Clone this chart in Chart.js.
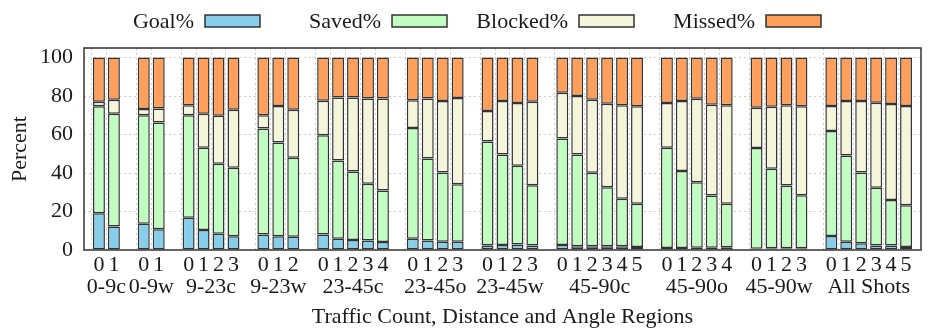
<!DOCTYPE html>
<html lang="en">
<head>
    <meta charset="UTF-8">
    <title>Shot outcomes by region</title>
    <script src="https://cdn.jsdelivr.net/npm/chart.js@4.4.1/dist/chart.umd.min.js"></script>
    <style>
        body { margin: 0; background: #fff; }
        #wrap { width: 940px; height: 331px; position: relative; }
    </style>
</head>
<body>
<div id="wrap"><canvas id="plotCanvas"></canvas></div>
<script>
    // groups along the x axis and how many traffic-count bars each one has
    const groupNames = ['0-9c', '0-9w', '9-23c', '9-23w', '23-45c', '23-45o', '23-45w', '45-90c', '45-90o', '45-90w', 'All Shots'];
    const groupSizes = [2, 2, 4, 3, 5, 4, 4, 6, 5, 4, 6];

    const seriesNames = ['Goal%', 'Saved%', 'Blocked%', 'Missed%'];
    const seriesColors = ['#87ceeb', '#c1fcc1', '#f5f5dc', '#ff9f5c'];

    // one value per bar, groups in order
    const goal = [19.1, 12.2,  13.7, 10.8,  16.7, 10.4, 8.5, 7.1,  8.0, 7.1, 6.9,
        8.0, 5.9, 5.2, 4.9, 4.2,  5.9, 4.9, 4.3, 4.3,  2.4, 2.6, 2.8, 2.3,
        2.6, 1.9, 1.9, 1.9, 1.9, 1.6,  1.0, 1.0, 1.2, 1.2, 1.4,  0.7, 0.9, 0.9, 0.9,
        7.3, 4.3, 3.5, 2.4, 2.3, 1.6];
    const saved = [55.6, 58.6,  56.4, 55.5,  53.4, 42.7, 36.3, 35.6,  55.2, 48.8, 41.0,
        51.7, 40.6, 35.6, 29.5, 26.7,  57.5, 42.7, 36.0, 29.9,  54.0, 47.1, 41.0, 31.4,
        55.4, 47.8, 38.2, 30.7, 24.7, 22.4,  52.1, 40.1, 34.0, 27.1, 22.6,  52.3, 41.3, 32.6, 27.6,
        54.5, 44.8, 36.8, 29.9, 23.7, 21.7];
    const blocked = [2.4, 7.3,  3.2, 7.3,  5.2, 17.7, 25.0, 30.2,  6.9, 18.9, 25.0,
        17.9, 32.8, 38.5, 44.4, 47.9,  14.4, 31.2, 37.1, 44.8,  15.8, 27.7, 32.6, 43.4,
        23.8, 30.3, 38.0, 43.4, 48.6, 50.7,  23.3, 36.3, 43.4, 47.2, 51.3,  21.0, 32.3, 41.8, 46.2,
        13.0, 28.3, 37.1, 44.3, 49.9, 51.5];
    const missed = [22.9, 21.9,  26.7, 26.4,  24.7, 29.2, 30.2, 27.1,  29.9, 25.2, 27.1,
        22.4, 20.7, 20.7, 21.2, 21.2,  22.2, 21.2, 22.6, 21.0,  27.8, 22.6, 23.6, 22.9,
        18.2, 20.0, 21.9, 24.0, 24.8, 25.3,  23.6, 22.6, 21.4, 24.5, 24.7,  26.0, 25.5, 24.7, 25.3,
        25.2, 22.6, 22.6, 23.4, 24.1, 25.2];

    const yTicks = [0, 20, 40, 60, 80, 100];

    // lay the bars out with an empty slot between groups and at both ends
    const labels = [''];
    const groupSpans = [];
    const slotOf = [];
    groupSizes.forEach((n, g) => {
        if (g > 0) labels.push('');
        const first = labels.length;
        for (let i = 0; i < n; i++) {
            slotOf.push(labels.length);
            labels.push(String(i));
        }
        groupSpans.push([first, labels.length - 1]);
    });
    labels.push('');

    function spread(values) {
        const out = labels.map(() => null);
        values.forEach((v, i) => { out[slotOf[i]] = v; });
        return out;
    }

    const FONT = "'Liberation Serif', 'DejaVu Serif', serif";
    const INK = '#1a1a1a';

    const extras = {
        id: 'extras',
        afterDraw(chart) {
            const ctx = chart.ctx;
            const area = chart.chartArea;
            const x = chart.scales.x;
            ctx.save();
            // plot frame
            ctx.strokeStyle = '#333';
            ctx.lineWidth = 1.5;
            ctx.strokeRect(area.left, area.top, area.right - area.left, area.bottom - area.top);
            // group names under the counts
            ctx.fillStyle = INK;
            ctx.font = '22px ' + FONT;
            ctx.textAlign = 'center';
            ctx.textBaseline = 'alphabetic';
            groupSpans.forEach(([a, b], g) => {
                const cx = (x.getPixelForValue(a) + x.getPixelForValue(b)) / 2;
                ctx.fillText(groupNames[g], cx, area.bottom + 43);
            });
            // key: label first, swatch after it
            chart.data.datasets.forEach((ds, i) => {
                const bx = 205 + 187 * i;
                ctx.fillStyle = ds.backgroundColor;
                ctx.fillRect(bx, 15, 55, 12);
                ctx.strokeStyle = '#333';
                ctx.lineWidth = 1.5;
                ctx.strokeRect(bx, 15, 55, 12);
                ctx.fillStyle = INK;
                ctx.textAlign = 'right';
                ctx.textBaseline = 'middle';
                ctx.fillText(ds.label, bx - 11, 22);
            });
            ctx.restore();
        }
    };

    const ctx = document.getElementById('plotCanvas').getContext('2d');
    new Chart(ctx, {
        type: 'bar',
        data: {
            labels: labels,
            datasets: [goal, saved, blocked, missed].map((vals, i) => ({
                label: seriesNames[i],
                data: spread(vals),
                backgroundColor: seriesColors[i],
                borderColor: '#333',
                borderWidth: 1.5,
                borderSkipped: false,
                barPercentage: 0.8,
                categoryPercentage: 1.0
            }))
        },
        options: {
            responsive: true,
            maintainAspectRatio: false,
            animation: false,
            layout: { padding: { top: 48, right: 19, left: 0, bottom: 0 } },
            plugins: {
                legend: { display: false },
                tooltip: { enabled: false }
            },
            scales: {
                x: {
                    stacked: true,
                    offset: false,
                    afterFit: s => { s.height = 81; },
                    grid: {
                        drawTicks: false,
                        color: c => (c.tick && c.tick.label !== '' ? '#cccccc' : 'rgba(0,0,0,0)')
                    },
                    border: { display: false, dash: [2, 3] },
                    ticks: {
                        autoSkip: false,
                        maxRotation: 0,
                        padding: 2,
                        color: INK,
                        font: { family: FONT, size: 22 }
                    },
                    title: {
                        display: true,
                        text: 'Traffic Count, Distance and Angle Regions',
                        color: INK,
                        font: { family: FONT, size: 22 },
                        padding: { top: 0, bottom: 1 }
                    }
                },
                y: {
                    stacked: true,
                    min: 0,
                    max: 105,
                    afterFit: s => { s.width = 84; },
                    afterBuildTicks: s => { s.ticks = yTicks.map(v => ({ value: v })); },
                    grid: {
                        drawTicks: false,
                        color: c => (c.tick && c.tick.value > 0 ? '#cccccc' : 'rgba(0,0,0,0)')
                    },
                    border: { display: false, dash: [2, 3] },
                    ticks: {
                        padding: 11,
                        color: INK,
                        font: { family: FONT, size: 22 }
                    },
                    title: {
                        display: true,
                        text: 'Percent',
                        color: INK,
                        font: { family: FONT, size: 22 },
                        padding: { top: 7, bottom: 0 }
                    }
                }
            }
        },
        plugins: [extras]
    });
</script>
</body>
</html>
